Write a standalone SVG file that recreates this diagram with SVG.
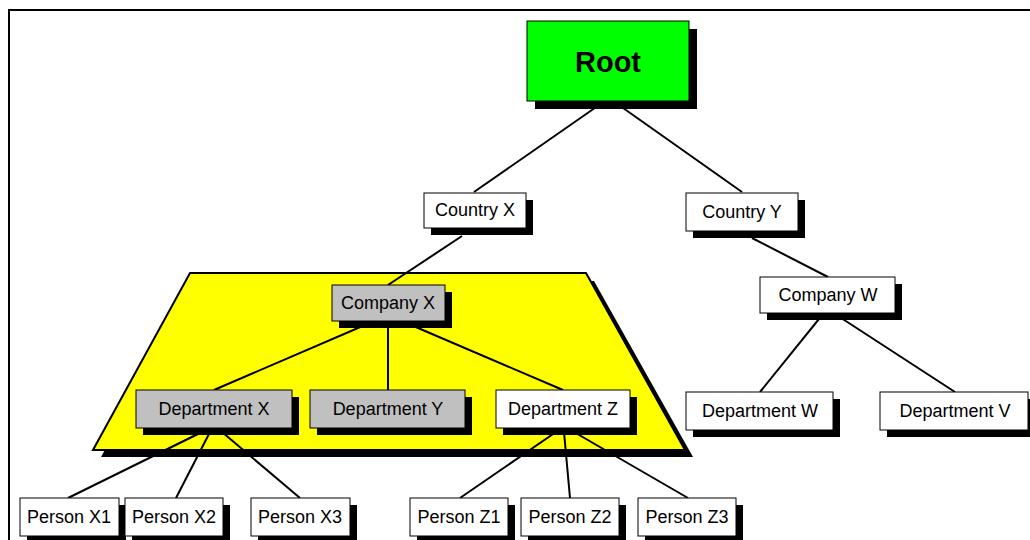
<svg xmlns="http://www.w3.org/2000/svg" width="1030" height="540" viewBox="0 0 1030 540">
  <defs>
    <style>
      .edge { stroke: #000; stroke-width: 2; fill: none; }
      .shadow { fill: #000; }
      .box { stroke: #000; stroke-width: 1; }
      .white { fill: #fff; }
      .grey { fill: #c0c0c0; }
      .label { font-family: "Liberation Sans", Arial, sans-serif; font-size: 18px; fill: #000; text-anchor: middle; dominant-baseline: central; }
      .title { font-family: "Liberation Sans", Arial, sans-serif; font-size: 29px; font-weight: bold; fill: #000; text-anchor: middle; dominant-baseline: central; }
    </style>
  </defs>

  <rect width="1030" height="540" fill="#fff"/>
  <!-- outer frame -->
  <path d="M9,540 V10 H1030" stroke="#000" stroke-width="2" fill="none"/>

  <!-- highlighted company region -->
  <g id="region">
    <polygon points="198,281 594,281 693,457 101,457" fill="#000"/>
    <polygon points="190,273 586,273 685,450 93,450" fill="#ffff00" stroke="#000" stroke-width="2"/>
  </g>

  <g id="connectors">
    <line class="edge" x1="602" y1="103" x2="474" y2="192"/>
    <line class="edge" x1="616" y1="103" x2="742" y2="192"/>
    <line class="edge" x1="462" y1="236" x2="388" y2="285"/>
    <line class="edge" x1="752" y1="238" x2="828" y2="277"/>
    <line class="edge" x1="372" y1="322" x2="214" y2="390"/>
    <line class="edge" x1="388" y1="322" x2="388" y2="390"/>
    <line class="edge" x1="404" y1="322" x2="563" y2="390"/>
    <line class="edge" x1="823" y1="314" x2="760" y2="392"/>
    <line class="edge" x1="835" y1="314" x2="955" y2="392"/>
    <line class="edge" x1="202" y1="432" x2="68" y2="498"/>
    <line class="edge" x1="210" y1="432" x2="176" y2="498"/>
    <line class="edge" x1="222" y1="432" x2="300" y2="498"/>
    <line class="edge" x1="556" y1="432" x2="460" y2="498"/>
    <line class="edge" x1="564" y1="432" x2="570" y2="498"/>
    <line class="edge" x1="574" y1="432" x2="688" y2="498"/>
  </g>

  <g id="root">
    <rect class="shadow" x="535" y="29" width="162" height="80"/>
    <rect class="box" x="527" y="21" width="162" height="80" fill="#00ff00"/>
    <text class="title" x="608" y="62">Root</text>
  </g>

  <g id="country-x">
    <rect class="shadow" x="431" y="200" width="102" height="35"/>
    <rect class="box white" x="424" y="193" width="102" height="35"/>
    <text class="label" x="475" y="210">Country X</text>
  </g>

  <g id="country-y">
    <rect class="shadow" x="693" y="200" width="112" height="38"/>
    <rect class="box white" x="686" y="193" width="112" height="38"/>
    <text class="label" x="742" y="212">Country Y</text>
  </g>

  <g id="company-x">
    <rect class="shadow" x="339" y="292" width="113" height="36"/>
    <rect class="box grey" x="332" y="285" width="113" height="36"/>
    <text class="label" x="388" y="303">Company X</text>
  </g>

  <g id="company-w">
    <rect class="shadow" x="767" y="284" width="135" height="36"/>
    <rect class="box white" x="760" y="277" width="135" height="36"/>
    <text class="label" x="828" y="295">Company W</text>
  </g>

  <g id="department-x">
    <rect class="shadow" x="143" y="397" width="156" height="38"/>
    <rect class="box grey" x="136" y="390" width="156" height="38"/>
    <text class="label" x="214" y="409">Department X</text>
  </g>

  <g id="department-y">
    <rect class="shadow" x="317" y="397" width="155" height="38"/>
    <rect class="box grey" x="310" y="390" width="155" height="38"/>
    <text class="label" x="388" y="409">Department Y</text>
  </g>

  <g id="department-z">
    <rect class="shadow" x="503" y="397" width="134" height="38"/>
    <rect class="box white" x="496" y="390" width="134" height="38"/>
    <text class="label" x="563" y="409">Department Z</text>
  </g>

  <g id="department-w">
    <rect class="shadow" x="693" y="399" width="147" height="38"/>
    <rect class="box white" x="686" y="392" width="147" height="38"/>
    <text class="label" x="760" y="411">Department W</text>
  </g>

  <g id="department-v">
    <rect class="shadow" x="887" y="399" width="148" height="38"/>
    <rect class="box white" x="880" y="392" width="148" height="38"/>
    <text class="label" x="955" y="411">Department V</text>
  </g>

  <g id="person-x1">
    <rect class="shadow" x="27" y="505" width="99" height="38"/>
    <rect class="box white" x="20" y="498" width="99" height="38"/>
    <text class="label" x="69" y="517">Person X1</text>
  </g>

  <g id="person-x2">
    <rect class="shadow" x="132" y="505" width="98" height="38"/>
    <rect class="box white" x="125" y="498" width="98" height="38"/>
    <text class="label" x="174" y="517">Person X2</text>
  </g>

  <g id="person-x3">
    <rect class="shadow" x="258" y="505" width="99" height="38"/>
    <rect class="box white" x="251" y="498" width="99" height="38"/>
    <text class="label" x="300" y="517">Person X3</text>
  </g>

  <g id="person-z1">
    <rect class="shadow" x="417" y="505" width="98" height="38"/>
    <rect class="box white" x="410" y="498" width="98" height="38"/>
    <text class="label" x="459" y="517">Person Z1</text>
  </g>

  <g id="person-z2">
    <rect class="shadow" x="528" y="505" width="98" height="38"/>
    <rect class="box white" x="521" y="498" width="98" height="38"/>
    <text class="label" x="570" y="517">Person Z2</text>
  </g>

  <g id="person-z3">
    <rect class="shadow" x="645" y="505" width="98" height="38"/>
    <rect class="box white" x="638" y="498" width="98" height="38"/>
    <text class="label" x="687" y="517">Person Z3</text>
  </g>
</svg>
